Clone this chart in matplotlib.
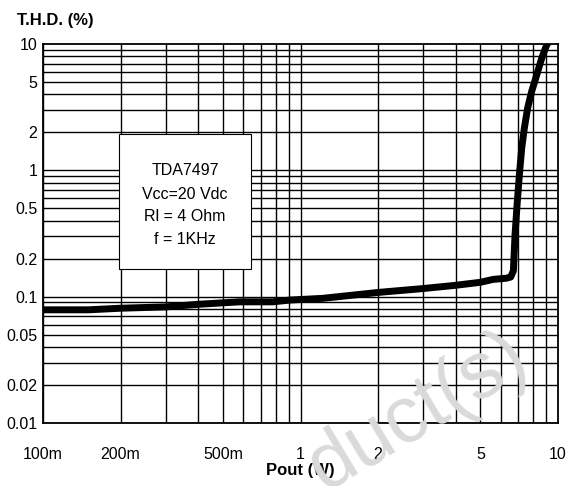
import numpy as np
import matplotlib.pyplot as plt
from matplotlib.patches import Rectangle
from matplotlib.ticker import FixedLocator, FixedFormatter, NullFormatter

plt.rcParams['font.family'] = ['Liberation Sans', 'DejaVu Sans']

# curve
pout = [0.1, 0.15, 0.2, 0.3, 0.4, 0.58, 0.78, 0.91, 1.0, 1.22, 2.0, 3.0, 4.0,
        5.0, 5.6, 6.3, 6.55, 6.71, 6.81, 6.95, 7.08, 7.23, 7.40, 7.62, 7.90,
        8.27, 8.65, 9.04, 9.15]
thd = [0.0787, 0.0787, 0.081, 0.083, 0.087, 0.091, 0.091, 0.094, 0.095, 0.097,
       0.108, 0.116, 0.123, 0.130, 0.137, 0.140, 0.143, 0.16, 0.308, 0.565,
       0.92, 1.5, 2.15, 3.1, 4.2, 5.7, 7.73, 9.84, 10.2]

xticks = [0.1, 0.2, 0.5, 1, 2, 5, 10]
xlabels = ['100m', '200m', '500m', '1', '2', '5', '10']
yticks = [0.01, 0.02, 0.05, 0.1, 0.2, 0.5, 1, 2, 5, 10]
ylabels = ['0.01', '0.02', '0.05', '0.1', '0.2', '0.5', '1', '2', '5', '10']
box_lines = ['TDA7497', 'Vcc=20 Vdc', 'Rl = 4 Ohm', 'f = 1KHz']

fig = plt.figure(figsize=(5.72, 4.86), dpi=100)
ax = fig.add_axes([0.0752, 0.1296, 0.9003, 0.7799])
ax.set_xscale('log')
ax.set_yscale('log')
ax.set_xlim(0.1, 10)
ax.set_ylim(0.01, 10)

ax.xaxis.set_major_locator(FixedLocator(xticks))
ax.xaxis.set_major_formatter(FixedFormatter(xlabels))
ax.yaxis.set_major_locator(FixedLocator(yticks))
ax.yaxis.set_major_formatter(FixedFormatter(ylabels))
ax.xaxis.set_minor_formatter(NullFormatter())
ax.yaxis.set_minor_formatter(NullFormatter())

# full log grid, every 1..9 of each decade
for d in [0.1, 1]:
    for k in range(1, 10):
        ax.axvline(d * k, color='black', lw=1.0, zorder=1)
for d in [0.01, 0.1, 1]:
    for k in range(1, 10):
        ax.axhline(d * k, color='black', lw=1.0, zorder=1)

ax.tick_params(which='both', length=0)
ax.tick_params(axis='x', pad=17, labelsize=11.5)
ax.tick_params(axis='y', pad=4, labelsize=11.5)
for s in ax.spines.values():
    s.set_linewidth(1.3)

ax.plot(pout, thd, color='black', lw=5, solid_capstyle='round',
        solid_joinstyle='round', zorder=3)

ax.add_patch(Rectangle((0.1476, 0.406), 0.2564, 0.3565, transform=ax.transAxes,
                       facecolor='white', edgecolor='black', lw=0.8, zorder=4))
for line, yy in zip(box_lines, [0.665, 0.602, 0.544, 0.485]):
    ax.text(0.276, yy, line, transform=ax.transAxes, ha='center', va='center',
            fontsize=11.5, zorder=5)

fig.text(17 / 572, 1 - 20 / 486, 'T.H.D. (%)', fontsize=12, fontweight='bold',
         ha='left', va='center')
fig.text(300 / 572, 1 - 470 / 486, 'Pout (W)', fontsize=12, fontweight='bold',
         ha='center', va='center')

# faint watermark from the source document
fig.text(325 / 572, 1 - 492 / 486, 'duct(s)', fontsize=57, color='#dadada',
         rotation=31, rotation_mode='anchor', ha='left', va='baseline',
         zorder=10)

fig.savefig('out.png', dpi=100)
